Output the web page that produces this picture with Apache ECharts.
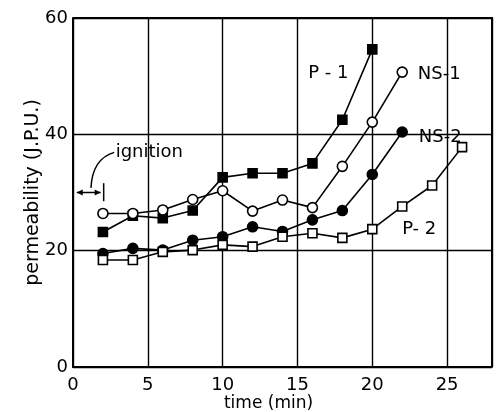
<!DOCTYPE html>
<html>
<head>
<meta charset="utf-8">
<script src="https://cdn.jsdelivr.net/npm/echarts@6/dist/echarts.min.js"></script>
<style>
  html, body { margin: 0; padding: 0; background: #fff; }
  #chart { width: 501px; height: 412px; }
</style>
</head>
<body>
<div id="chart"></div>
<script>
// time (min)
const times = [2, 4, 6, 8, 10, 12, 14, 16, 18, 20, 22, 24, 26]
const p1 = [23.2, 26.0, 25.6, 26.9, 32.6, 33.3, 33.3, 35.0, 42.5, 54.6]
const ns1 = [26.4, 26.4, 27.0, 28.8, 30.3, 26.8, 28.7, 27.4, 34.5, 42.1, 50.7]
const ns2 = [19.5, 20.4, 20.1, 21.8, 22.4, 24.1, 23.3, 25.3, 26.9, 33.1, 40.4]
const p2 = [18.4, 18.4, 19.8, 20.1, 21.0, 20.7, 22.4, 23.0, 22.2, 23.7, 27.6, 31.2, 37.8]
const xTicks = [0, 5, 10, 15, 20, 25]
const yTicks = [0, 20, 40, 60]

const FONT = 'DejaVu Sans'
const pairs = vals => vals.map((v, i) => [times[i], v])

// label sits on one point of the series, shifted by an offset
const tag = (vals, idx, text, offset) => pairs(vals).map((p, i) => i !== idx ? p : {
  value: p,
  label: {
    show: true, formatter: text, position: 'inside', offset: offset,
    color: '#000', fontFamily: FONT, fontSize: 18
  }
})

const mkSeries = (name, data, symbol, filled, size) => ({
  name: name,
  type: 'line',
  data: data,
  symbol: symbol,
  symbolSize: size,
  showAllSymbol: true,
  lineStyle: { color: '#000', width: 1.6 },
  itemStyle: { color: filled ? '#000' : '#fff', borderColor: '#000', borderWidth: 1.6 },
  emphasis: { disabled: true },
  z: 3
})

const myEcharts = echarts.init(document.getElementById('chart'))
myEcharts.setOption({
  animation: false,
  grid: { left: 73, right: 9, top: 18, bottom: 45, outerBoundsMode: 'none', containLabel: false },
  xAxis: {
    type: 'value', min: 0, max: 28, interval: 5,
    name: 'time (min)', nameLocation: 'middle', nameGap: 28, nameMoveOverlap: false,
    nameTextStyle: { color: '#000', fontFamily: FONT, fontSize: 17, padding: [0, 28, 0, 0] },
    axisLine: { show: true, lineStyle: { color: '#000', width: 2 } },
    axisTick: { show: false },
    axisLabel: {
      color: '#000', fontFamily: FONT, fontSize: 18, margin: 9,
      showMaxLabel: false,
      formatter: v => xTicks.includes(v) ? String(v) : ''
    },
    splitLine: { show: true, lineStyle: { color: '#000', width: 1.4 } }
  },
  yAxis: {
    type: 'value', min: 0, max: 60, interval: 20,
    name: 'permeability (J.P.U.)', nameLocation: 'middle', nameGap: 30, nameMoveOverlap: false,
    nameTextStyle: { color: '#000', fontFamily: FONT, fontSize: 19 },
    axisLine: { show: true, lineStyle: { color: '#000', width: 2 } },
    axisTick: { show: false },
    axisLabel: {
      color: '#000', fontFamily: FONT, fontSize: 18, margin: 5,
      formatter: v => yTicks.includes(v) ? String(v) : ''
    },
    splitLine: { show: true, lineStyle: { color: '#000', width: 1.4 } }
  },
  series: [
    mkSeries('P-1', tag(p1, 9, 'P - 1', [-44, 24]), 'rect', true, 9),
    mkSeries('NS-1', tag(ns1, 10, 'NS-1', [37, 2]), 'circle', false, 10),
    mkSeries('NS-2', tag(ns2, 10, 'NS-2', [38, 5]), 'circle', true, 10),
    mkSeries('P-2', tag(p2, 10, 'P- 2', [17, 23]), 'rect', false, 9)
  ]
})

// frame on top and right + the ignition note
const px = (x, y) => myEcharts.convertToPixel({ gridIndex: 0 }, [x, y])
const tl = px(0, 60), br = px(28, 0)
const a0 = px(0.25, 30), a1 = px(1.85, 30)
const bar0 = px(2.05, 31.6), bar1 = px(2.05, 28.5)
const c0 = px(2.75, 36.9), c1 = px(1.2, 30.8), cc = px(1.3, 35.8)
const txt = px(2.85, 36.9)
myEcharts.setOption({
  graphic: [
    { type: 'polyline', shape: { points: [[tl[0], tl[1]], [br[0], tl[1]], [br[0], br[1]]] },
      style: { stroke: '#000', lineWidth: 2, fill: null }, z: 10 },
    { type: 'text', x: txt[0], y: txt[1],
      style: { text: 'ignition', font: '18px "DejaVu Sans"', fill: '#000', verticalAlign: 'middle' } },
    { type: 'bezierCurve', shape: { x1: c0[0], y1: c0[1], x2: c1[0], y2: c1[1], cpx1: cc[0], cpy1: cc[1] },
      style: { stroke: '#000', lineWidth: 1.5, fill: null } },
    { type: 'line', shape: { x1: a0[0], y1: a0[1], x2: a1[0], y2: a1[1] },
      style: { stroke: '#000', lineWidth: 1.5 } },
    { type: 'polygon', shape: { points: [[a0[0], a0[1]], [a0[0] + 6, a0[1] - 3], [a0[0] + 6, a0[1] + 3]] },
      style: { fill: '#000' } },
    { type: 'polygon', shape: { points: [[a1[0], a1[1]], [a1[0] - 6, a1[1] - 3], [a1[0] - 6, a1[1] + 3]] },
      style: { fill: '#000' } },
    { type: 'line', shape: { x1: bar0[0], y1: bar0[1], x2: bar1[0], y2: bar1[1] },
      style: { stroke: '#000', lineWidth: 1.5 } }
  ]
})
</script>
</body>
</html>
